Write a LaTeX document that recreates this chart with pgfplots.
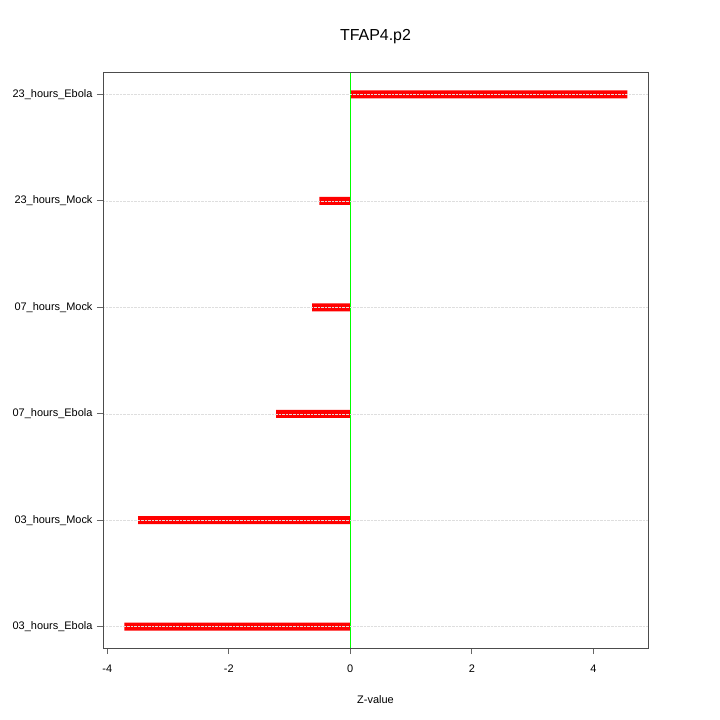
\documentclass[border=0pt]{standalone}
\usepackage{pgfplots}
\pgfplotsset{compat=1.18}
\usepackage{fontspec}
\setmainfont{Liberation Sans}
\begin{document}
\begin{tikzpicture}[x=1bp,y=1bp]
\useasboundingbox (-103bp,-72bp) rectangle (617bp,648bp);
\begin{axis}[
  at={(0,0)}, anchor=south west,
  scale only axis, width=545bp, height=576bp,
  xmin=-4.07, xmax=4.9, ymin=0.8, ymax=6.21,
  xtick={-4,-2,0,2,4},
  ytick={1,2,3,4,5,6},
  yticklabels={03\_hours\_Ebola,03\_hours\_Mock,07\_hours\_Ebola,07\_hours\_Mock,23\_hours\_Mock,23\_hours\_Ebola},
  tick align=outside,
  tick pos=left,
  major tick length=6bp,
  tick style={black!60, line width=0.8pt},
  axis line style={black!70, line width=0.8pt},
  ymajorgrids, grid style={black!13, densely dotted, line width=0.5pt},
  axis on top,
  xlabel={Z-value},
  xlabel style={yshift=-16bp},
  title={TFAP4.p2},
  title style={font=\fontsize{16}{18}\selectfont, yshift=19bp},
  ticklabel style={font=\fontsize{11}{13}\selectfont},
  label style={font=\fontsize{11}{13}\selectfont},
  /pgf/number format/assume math mode=true,
  xticklabel style={yshift=-7bp},
  yticklabel style={xshift=-1bp},
]
\addplot[xbar, bar width=8bp, fill=red, draw=none] coordinates {
  (-3.72,1) (-3.49,2) (-1.22,3) (-0.63,4) (-0.51,5) (4.56,6)
};
\addplot[green, line width=0.8pt] coordinates {(0,0.8) (0,6.21)};
\end{axis}
\end{tikzpicture}
\end{document}
